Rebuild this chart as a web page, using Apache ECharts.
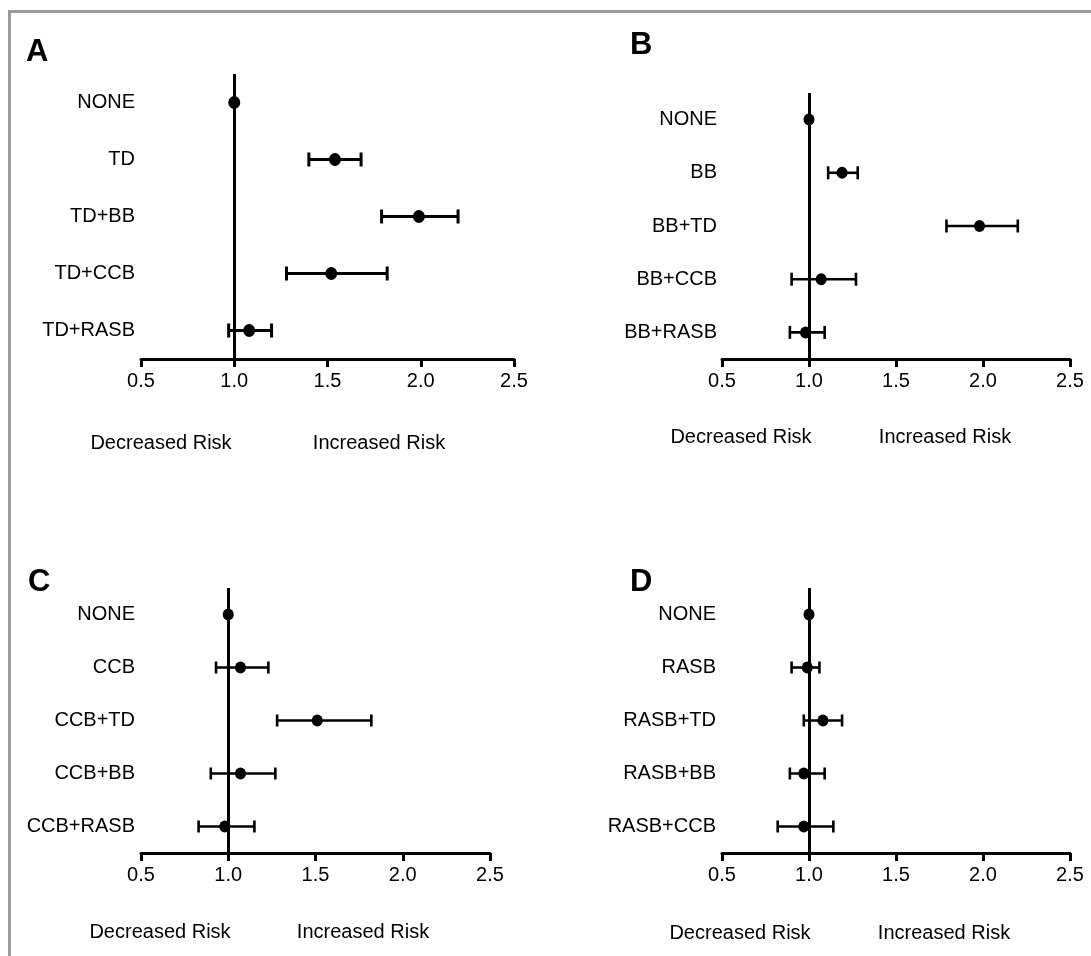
<!DOCTYPE html>
<html>
<head>
<meta charset="utf-8">
<script src="https://cdn.jsdelivr.net/npm/echarts@6/dist/echarts.min.js"></script>
<style>
  html, body { margin: 0; padding: 0; background: #fff; }
  #c1 { width: 1091px; height: 956px; }
</style>
</head>
<body>
<div id="c1"></div>
<script>
// odds ratios and 95% CI
var catsA = ["NONE", "TD", "TD+BB", "TD+CCB", "TD+RASB"];
var orA = [1.0, 1.54, 1.99, 1.52, 1.08];
var loA = [null, 1.40, 1.79, 1.28, 0.97];
var hiA = [null, 1.68, 2.20, 1.82, 1.20];

var catsB = ["NONE", "BB", "BB+TD", "BB+CCB", "BB+RASB"];
var orB = [1.0, 1.19, 1.98, 1.07, 0.98];
var loB = [null, 1.11, 1.79, 0.90, 0.89];
var hiB = [null, 1.28, 2.20, 1.27, 1.09];

var catsC = ["NONE", "CCB", "CCB+TD", "CCB+BB", "CCB+RASB"];
var orC = [1.0, 1.07, 1.51, 1.07, 0.98];
var loC = [null, 0.93, 1.28, 0.90, 0.83];
var hiC = [null, 1.23, 1.82, 1.27, 1.15];

var catsD = ["NONE", "RASB", "RASB+TD", "RASB+BB", "RASB+CCB"];
var orD = [1.0, 0.99, 1.08, 0.97, 0.97];
var loD = [null, 0.90, 0.97, 0.89, 0.82];
var hiD = [null, 1.06, 1.19, 1.09, 1.14];

var xTicks = [0.5, 1.0, 1.5, 2.0, 2.5];
var panelNames = ["A", "B", "C", "D"];

var font = "Liberation Sans";

var panels = [
  { cats: catsA, or: orA, lo: loA, hi: hiA, grid: { left: 141, top: 74, width: 373, height: 285 }, margin: 6, dot: [12, 13], lw: 3, cap: 14 },
  { cats: catsB, or: orB, lo: loB, hi: hiB, grid: { left: 722, top: 93, width: 348, height: 266 }, margin: 5, dot: [11, 12], lw: 2.6, cap: 13 },
  { cats: catsC, or: orC, lo: loC, hi: hiC, grid: { left: 141, top: 588, width: 349, height: 265 }, margin: 6, dot: [11, 12], lw: 2.6, cap: 12 },
  { cats: catsD, or: orD, lo: loD, hi: hiD, grid: { left: 722, top: 588, width: 348, height: 265 }, margin: 6, dot: [11, 12], lw: 2.6, cap: 12 },
];

var chartDom = document.getElementById("c1");
var myChart = echarts.init(chartDom, null, { renderer: "canvas" });

var grids = [], xAxes = [], yAxes = [], series = [];

panels.forEach(function (p, i) {
  grids.push(p.grid);
  xAxes.push({
    type: "value",
    gridIndex: i,
    min: xTicks[0],
    max: xTicks[xTicks.length - 1],
    interval: 0.5,
    axisLine: { show: true, lineStyle: { color: "#000", width: 3 } },
    axisTick: { show: true, length: 8, lineStyle: { color: "#000", width: 3 } },
    axisLabel: {
      color: "#000",
      fontSize: 20,
      fontFamily: font,
      margin: 12,
      formatter: function (v) { return v.toFixed(1); },
    },
    splitLine: { show: false },
  });
  yAxes.push({
    type: "category",
    gridIndex: i,
    data: p.cats,
    inverse: true,
    axisLine: { show: false },
    axisTick: { show: false },
    axisLabel: { color: "#000", fontSize: 20, fontFamily: font, margin: p.margin },
    splitLine: { show: false },
  });

  var bars = [];
  for (var k = 0; k < p.cats.length; k++) {
    if (p.lo[k] != null) bars.push([k, p.lo[k], p.hi[k]]);
  }
  var lw = p.lw, cap = p.cap;
  series.push({
    type: "custom",
    xAxisIndex: i,
    yAxisIndex: i,
    encode: { x: [1, 2], y: 0 },
    data: bars,
    renderItem: function (params, api) {
      var a = api.coord([api.value(1), api.value(0)]);
      var b = api.coord([api.value(2), api.value(0)]);
      var st = { stroke: "#000", lineWidth: lw };
      return {
        type: "group",
        children: [
          { type: "line", shape: { x1: a[0], y1: a[1], x2: b[0], y2: b[1] }, style: st },
          { type: "line", shape: { x1: a[0], y1: a[1] - cap / 2, x2: a[0], y2: a[1] + cap / 2 }, style: st },
          { type: "line", shape: { x1: b[0], y1: b[1] - cap / 2, x2: b[0], y2: b[1] + cap / 2 }, style: st },
        ],
      };
    },
    z: 3,
  });
  series.push({
    type: "scatter",
    xAxisIndex: i,
    yAxisIndex: i,
    symbol: "circle",
    symbolSize: p.dot,
    itemStyle: { color: "#000", opacity: 1 },
    data: p.or.map(function (v, k) { return [v, k]; }),
    markLine: {
      silent: true,
      symbol: "none",
      label: { show: false },
      lineStyle: { color: "#000", width: 3, type: "solid", opacity: 1 },
      data: [{ xAxis: 1.0 }],
    },
    z: 4,
  });
});

function txt(x, y, s, size, bold, align) {
  return {
    type: "text",
    x: x,
    y: y,
    style: {
      text: s,
      fill: "#000",
      font: (bold ? "bold " : "") + size + "px '" + font + "'",
      textAlign: align || "center",
      textVerticalAlign: "middle",
    },
  };
}

var option = {
  backgroundColor: "#fff",
  animation: false,
  grid: grids,
  xAxis: xAxes,
  yAxis: yAxes,
  series: series,
  graphic: [
    {
      type: "polyline",
      shape: { points: [[9.5, 956], [9.5, 11.5], [1091, 11.5]] },
      style: { stroke: "#9b9b9b", lineWidth: 3, fill: null },
    },
    txt(26, 52, panelNames[0], 31, true, "left"),
    txt(630, 45, panelNames[1], 31, true, "left"),
    txt(28, 582, panelNames[2], 31, true, "left"),
    txt(630, 582, panelNames[3], 31, true, "left"),
    txt(161, 443, "Decreased Risk", 20),
    txt(379, 443, "Increased Risk", 20),
    txt(741, 437, "Decreased Risk", 20),
    txt(945, 437, "Increased Risk", 20),
    txt(160, 932, "Decreased Risk", 20),
    txt(363, 932, "Increased Risk", 20),
    txt(740, 933, "Decreased Risk", 20),
    txt(944, 933, "Increased Risk", 20),
  ],
};

myChart.setOption(option);
window.addEventListener("resize", function () {
  myChart.resize();
});
</script>
</body>
</html>
